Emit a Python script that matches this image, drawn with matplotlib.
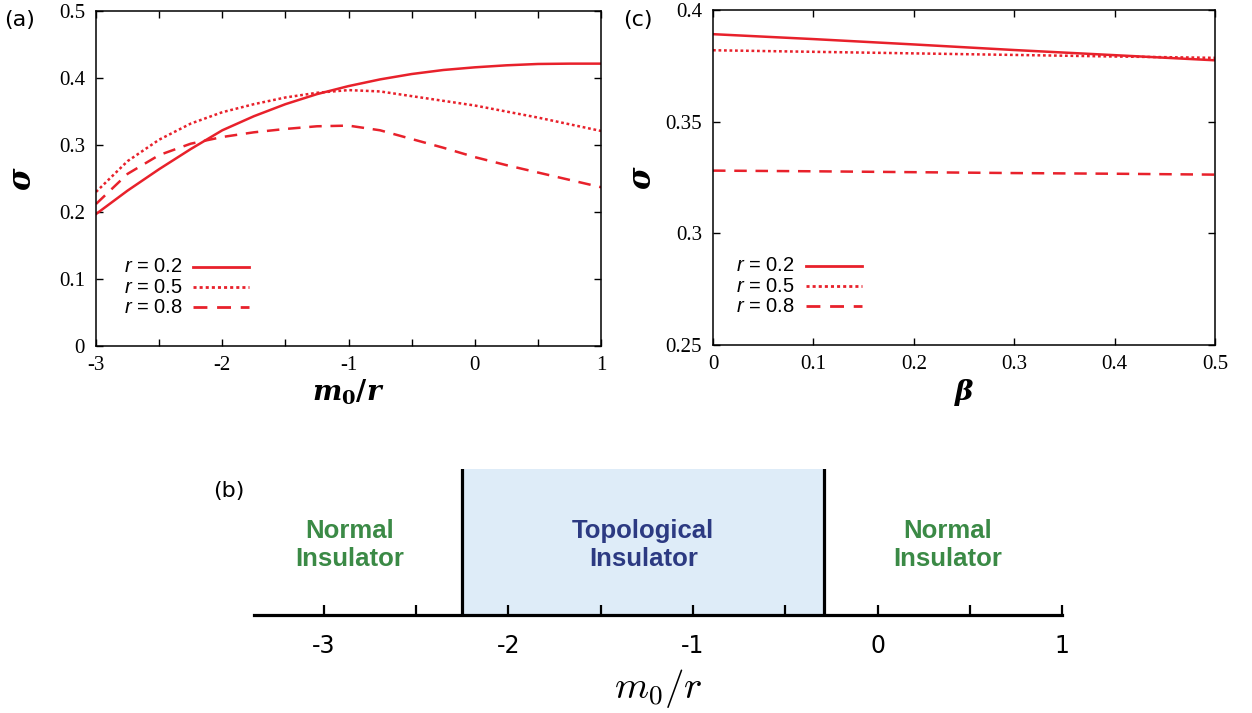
import numpy as np
import matplotlib.pyplot as plt
from matplotlib.ticker import MultipleLocator

#Panel (a): sigma vs m0/r for three r values
m0_r = [-3.0, -2.75, -2.5, -2.25, -2.0, -1.75, -1.5, -1.25, -1.0,
        -0.75, -0.5, -0.25, 0.0, 0.25, 0.5, 0.75, 1.0]
sigma_r02 = [0.197, 0.232, 0.264, 0.294, 0.322, 0.343, 0.361, 0.376, 0.388,
             0.398, 0.406, 0.412, 0.416, 0.419, 0.421, 0.4215, 0.4215]
sigma_r05 = [0.230, 0.276, 0.308, 0.332, 0.349, 0.361, 0.371, 0.378, 0.382,
             0.380, 0.373, 0.366, 0.359, 0.350, 0.341, 0.331, 0.321]
sigma_r08 = [0.212, 0.257, 0.285, 0.302, 0.312, 0.319, 0.324, 0.328, 0.329,
             0.322, 0.309, 0.296, 0.282, 0.270, 0.259, 0.248, 0.237]

#Panel (c): sigma vs beta
beta = [0.0, 0.1, 0.2, 0.3, 0.4, 0.5]
sigma_b02 = [0.3892, 0.3870, 0.3846, 0.3821, 0.3798, 0.3775]
sigma_b05 = [0.3820, 0.3813, 0.3806, 0.3799, 0.3792, 0.3786]
sigma_b08 = [0.3281, 0.3278, 0.3274, 0.3270, 0.3267, 0.3263]

r_labels = ['0.2', '0.5', '0.8']

#Panel (b): phase diagram
phase_bounds = [-2.25, -0.29]
phase_names = ['Normal\nInsulator', 'Topological\nInsulator', 'Normal\nInsulator']
phase_centers = [-2.86, -1.27, 0.38]
b_ticks = [-3, -2, -1, 0, 1]

red = '#e8212b'
styles = ['-', (0, (1.1, 1.1)), (0, (5, 3.5))]

plt.rcParams['mathtext.fontset'] = 'custom'
plt.rcParams['mathtext.rm'] = 'Liberation Sans'
plt.rcParams['mathtext.it'] = 'Liberation Sans:italic'
plt.rcParams['mathtext.bf'] = 'DejaVu Serif:bold'
plt.rcParams['mathtext.bfit'] = 'DejaVu Serif:italic:bold'

fig = plt.figure(figsize=(12.52, 7.13), dpi=100)

def style_axes(ax):
    for s in ax.spines.values():
        s.set_linewidth(1.1)
    ax.tick_params(which='both', direction='in', top=True, right=True,
                   length=5, width=1.0, labelsize=15)
    for lab in ax.get_xticklabels() + ax.get_yticklabels():
        lab.set_fontfamily('Liberation Serif')

def add_legend(ax, x0, y0, l0, l1):
    #gnuplot style key: text then line sample
    for i, (lab, ls) in enumerate(zip(r_labels, styles)):
        y = y0 - i * 0.06
        ax.text(x0, y, '$r$ = ' + lab, transform=ax.transAxes, fontsize=14.5,
                ha='left', va='center', family='Liberation Sans')
        ax.plot([l0, l1], [y, y], transform=ax.transAxes,
                color=red, lw=2.0, linestyle=ls)

#(a)
ax_a = fig.add_axes([0.0767, 0.5147, 0.4034, 0.4698])
for ys, ls in zip([sigma_r02, sigma_r05, sigma_r08], styles):
    ax_a.plot(m0_r, ys, color=red, lw=1.8, linestyle=ls)
ax_a.set_xlim(-3, 1)
ax_a.set_ylim(0, 0.5)
ax_a.xaxis.set_minor_locator(MultipleLocator(0.5))
ax_a.set_yticks([0, 0.1, 0.2, 0.3, 0.4, 0.5])
ax_a.set_yticklabels(['0', '0.1', '0.2', '0.3', '0.4', '0.5'])
ax_a.set_xticks([-3, -2, -1, 0, 1])
ax_a.set_xticklabels(['-3', '-2', '-1', '0', '1'])
style_axes(ax_a)
ax_a.tick_params(axis='y', pad=8)
ax_a.tick_params(axis='x', pad=7)
ax_a.set_xlabel(r'$\boldsymbol{m}_\mathbf{0}\mathbf{/}\boldsymbol{r}$', fontsize=20, labelpad=2)
ax_a.set_ylabel(r'$\boldsymbol{\sigma}$', fontsize=22, labelpad=16)
add_legend(ax_a, 0.055, 0.236, 0.192, 0.303)

#(c)
ax_c = fig.add_axes([0.5695, 0.5161, 0.401, 0.4698])
for ys, ls in zip([sigma_b02, sigma_b05, sigma_b08], styles):
    ax_c.plot(beta, ys, color=red, lw=1.8, linestyle=ls)
ax_c.set_xlim(0, 0.5)
ax_c.set_ylim(0.25, 0.4)
ax_c.set_xticks([0, 0.1, 0.2, 0.3, 0.4, 0.5])
ax_c.set_xticklabels(['0', '0.1', '0.2', '0.3', '0.4', '0.5'])
ax_c.set_yticks([0.25, 0.3, 0.35, 0.4])
ax_c.set_yticklabels(['0.25', '0.3', '0.35', '0.4'])
style_axes(ax_c)
ax_c.tick_params(axis='y', pad=8)
ax_c.tick_params(axis='x', pad=7)
ax_c.set_xlabel(r'$\boldsymbol{\beta}$', fontsize=20, labelpad=2)
ax_c.set_ylabel(r'$\boldsymbol{\sigma}$', fontsize=22, labelpad=6)
add_legend(ax_c, 0.046, 0.236, 0.185, 0.297)

#(b) phase diagram
ax_b = fig.add_axes([0.2029, 0.1374, 0.6454, 0.2048])
ax_b.set_xlim(-3.379, 1.0)
ax_b.set_ylim(0, 1)
ax_b.axvspan(phase_bounds[0], phase_bounds[1], color='#deecf8', lw=0)
for xb in phase_bounds:
    ax_b.axvline(xb, color='black', lw=2.3)
for s in ['top', 'left', 'right']:
    ax_b.spines[s].set_visible(False)
ax_b.spines['bottom'].set_linewidth(2.3)
ax_b.set_yticks([])
ax_b.set_xticks(b_ticks)
ax_b.set_xticklabels([str(t) for t in b_ticks])
ax_b.xaxis.set_minor_locator(MultipleLocator(0.5))
ax_b.tick_params(which='both', direction='in', length=7, width=1.6,
                 labelsize=17, pad=14)
colors_b = ['#3b8a46', '#2c3a82', '#3b8a46']
for name, xc, c in zip(phase_names, phase_centers, colors_b):
    ax_b.text(xc, 0.48, name, color=c, fontsize=18.5, fontweight='bold',
              ha='center', va='center', family='Liberation Sans', linespacing=1.2)
ax_b.set_xlabel(r'$m_0/r$', fontsize=28, labelpad=6, math_fontfamily='cm')

#Panel labels
fig.text(0.003, 0.972, '(a)', fontsize=16, ha='left', va='center')
fig.text(0.498, 0.972, '(c)', fontsize=16, ha='left', va='center')
fig.text(0.170, 0.312, '(b)', fontsize=16, ha='left', va='center')

fig.savefig('out.png', dpi=100)
